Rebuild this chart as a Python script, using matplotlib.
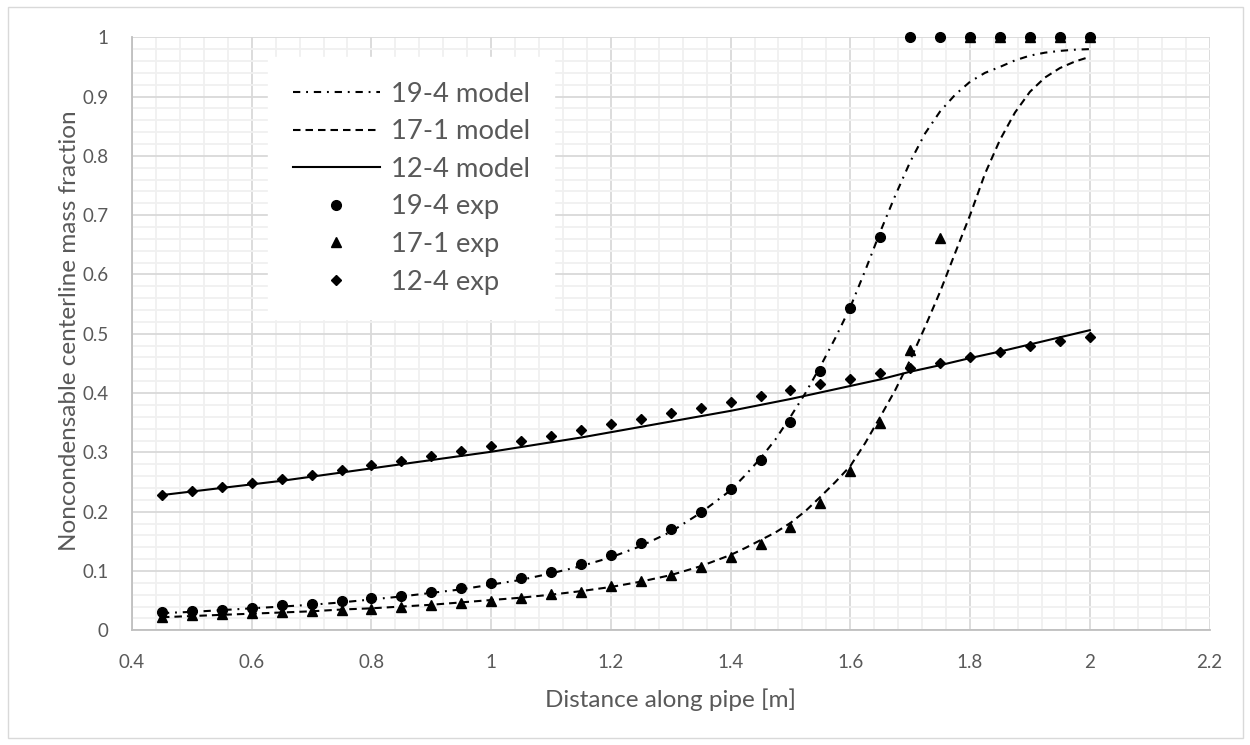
"""Noncondensable centerline mass fraction along the pipe"""
import matplotlib

matplotlib.use("Agg")
import matplotlib.pyplot as plt
from matplotlib.patches import Rectangle
from matplotlib.ticker import MultipleLocator, AutoMinorLocator, FuncFormatter

plt.rcParams["font.family"] = ["Lato", "DejaVu Sans"]

TEXT = "#595959"

# experimental positions [m]
x_exp = [0.45, 0.5, 0.55, 0.6, 0.65, 0.7, 0.75, 0.8, 0.85, 0.9, 0.95, 1.0,
         1.05, 1.1, 1.15, 1.2, 1.25, 1.3, 1.35, 1.4, 1.45, 1.5, 1.55, 1.6,
         1.65, 1.7, 1.75, 1.8, 1.85, 1.9, 1.95, 2.0]

exp_19_4 = [0.031, 0.033, 0.035, 0.038, 0.042, 0.045, 0.049, 0.054, 0.058, 0.064,
            0.071, 0.079, 0.088, 0.099, 0.112, 0.127, 0.147, 0.170, 0.200, 0.238,
            0.287, 0.352, 0.437, 0.543, 0.663, 1, 1, 1, 1, 1, 1, 1]
exp_17_1 = [0.023, 0.025, 0.027, 0.029, 0.031, 0.033, 0.034, 0.036, 0.039, 0.042,
            0.046, 0.049, 0.054, 0.061, 0.065, 0.074, 0.083, 0.093, 0.107, 0.124,
            0.146, 0.174, 0.214, 0.269, 0.350, 0.472, 0.661, 1, 1, 1, 1, 1]
exp_12_4 = [0.228, 0.235, 0.241, 0.248, 0.255, 0.262, 0.270, 0.278, 0.286, 0.294,
            0.302, 0.311, 0.319, 0.328, 0.338, 0.347, 0.356, 0.366, 0.375, 0.385,
            0.395, 0.405, 0.415, 0.424, 0.433, 0.443, 0.451, 0.461, 0.470, 0.479,
            0.488, 0.495]

# model curves
x_model = [0.45, 0.5, 0.55, 0.6, 0.65, 0.7, 0.75, 0.8, 0.85, 0.9, 0.95, 1.0,
           1.05, 1.1, 1.15, 1.2, 1.25, 1.3, 1.35, 1.4, 1.425, 1.45, 1.475, 1.5,
           1.525, 1.55, 1.575, 1.6, 1.625, 1.65, 1.675, 1.7, 1.725, 1.75, 1.775,
           1.8, 1.825, 1.85, 1.875, 1.9, 1.925, 1.95, 1.975, 2.0]
model_19_4 = [0.029, 0.031, 0.034, 0.037, 0.040, 0.043, 0.047, 0.052, 0.057, 0.063,
              0.069, 0.077, 0.085, 0.096, 0.108, 0.123, 0.142, 0.166, 0.198, 0.236,
              0.262, 0.290, 0.322, 0.360, 0.400, 0.445, 0.493, 0.545, 0.607, 0.672,
              0.733, 0.790, 0.838, 0.875, 0.903, 0.925, 0.940, 0.950, 0.961, 0.969,
              0.974, 0.977, 0.979, 0.980]
model_17_1 = [0.022, 0.024, 0.026, 0.028, 0.030, 0.032, 0.035, 0.037, 0.040, 0.043,
              0.047, 0.051, 0.055, 0.060, 0.066, 0.073, 0.082, 0.093, 0.108, 0.127,
              0.139, 0.152, 0.165, 0.181, 0.201, 0.225, 0.250, 0.277, 0.316, 0.360,
              0.405, 0.456, 0.512, 0.571, 0.636, 0.700, 0.770, 0.827, 0.873, 0.908,
              0.932, 0.948, 0.959, 0.967]
model_12_4 = [0.228, 0.234, 0.240, 0.246, 0.252, 0.259, 0.266, 0.273, 0.280, 0.287,
              0.294, 0.301, 0.309, 0.317, 0.325, 0.334, 0.343, 0.352, 0.361, 0.370,
              0.380, 0.390, 0.401, 0.412, 0.423, 0.436, 0.447, 0.459, 0.470, 0.482,
              0.494, 0.506]

fig = plt.figure(figsize=(12.5, 7.45), dpi=100)
fig.patches.append(Rectangle((0.006, 0.009), 0.988, 0.982, transform=fig.transFigure,
                             fill=False, edgecolor="#d9d9d9", lw=1.0))
ax = fig.add_axes([0.1056, 0.154, 0.862, 0.796])

ax.plot(x_model, model_19_4, color="black", lw=1.5, dashes=(3.5, 2.8, 0.9, 2.8),
        label="19-4 model", zorder=3)
ax.plot(x_model, model_17_1, color="black", lw=1.5, dashes=(3.6, 2.4),
        label="17-1 model", zorder=3)
ax.plot(x_exp, model_12_4, color="black", lw=1.5, label="12-4 model", zorder=3)
ax.plot(x_exp, exp_19_4, "o", color="black", ms=7, label="19-4 exp",
        clip_on=False, zorder=4)
ax.plot(x_exp, exp_17_1, "^", color="black", ms=7, label="17-1 exp",
        clip_on=False, zorder=4)
ax.plot(x_exp, exp_12_4, "D", color="black", ms=4.8, label="12-4 exp",
        clip_on=False, zorder=4)

ax.set_xlim(0.4, 2.2)
ax.set_ylim(0, 1)
ax.xaxis.set_major_locator(MultipleLocator(0.2))
ax.yaxis.set_major_locator(MultipleLocator(0.1))
ax.xaxis.set_minor_locator(AutoMinorLocator(5))
ax.yaxis.set_minor_locator(AutoMinorLocator(5))
fmt = FuncFormatter(lambda v, pos: f"{round(v, 2):g}")
ax.xaxis.set_major_formatter(fmt)
ax.yaxis.set_major_formatter(fmt)

ax.grid(which="major", color="#d9d9d9", lw=1.3, zorder=0)
ax.grid(which="minor", color="#f0f0f0", lw=1.3, zorder=0)
ax.set_axisbelow(True)
for side in ["top", "right"]:
    ax.spines[side].set_visible(False)
for side in ["left", "bottom"]:
    ax.spines[side].set_color("#bfbfbf")
    ax.spines[side].set_linewidth(1.3)

ax.tick_params(which="both", length=0, labelsize=13.5, labelcolor=TEXT)
ax.tick_params(axis="y", pad=17)
ax.tick_params(axis="x", pad=17)

ax.set_xlabel("Distance along pipe [m]", fontsize=17.5, color=TEXT)
ax.set_ylabel("Noncondensable centerline mass fraction", fontsize=17.5, color=TEXT)
ax.xaxis.set_label_coords(0.5, -0.1175)
ax.xaxis.label.set_verticalalignment("center")
ax.yaxis.set_label_coords(-0.0576, 0.506)
ax.yaxis.label.set_verticalalignment("center")

leg = ax.legend(loc="upper left", bbox_to_anchor=(268 / 1250, 1 - 57 / 745),
                bbox_transform=fig.transFigure, fontsize=19.7, labelcolor=TEXT,
                frameon=True, fancybox=False, framealpha=1, edgecolor="white",
                handlelength=3.2, handletextpad=0.38, labelspacing=0.46,
                borderpad=0.9, borderaxespad=0)
leg.set_zorder(2)

fig.savefig("out.png", dpi=100, facecolor="white")
